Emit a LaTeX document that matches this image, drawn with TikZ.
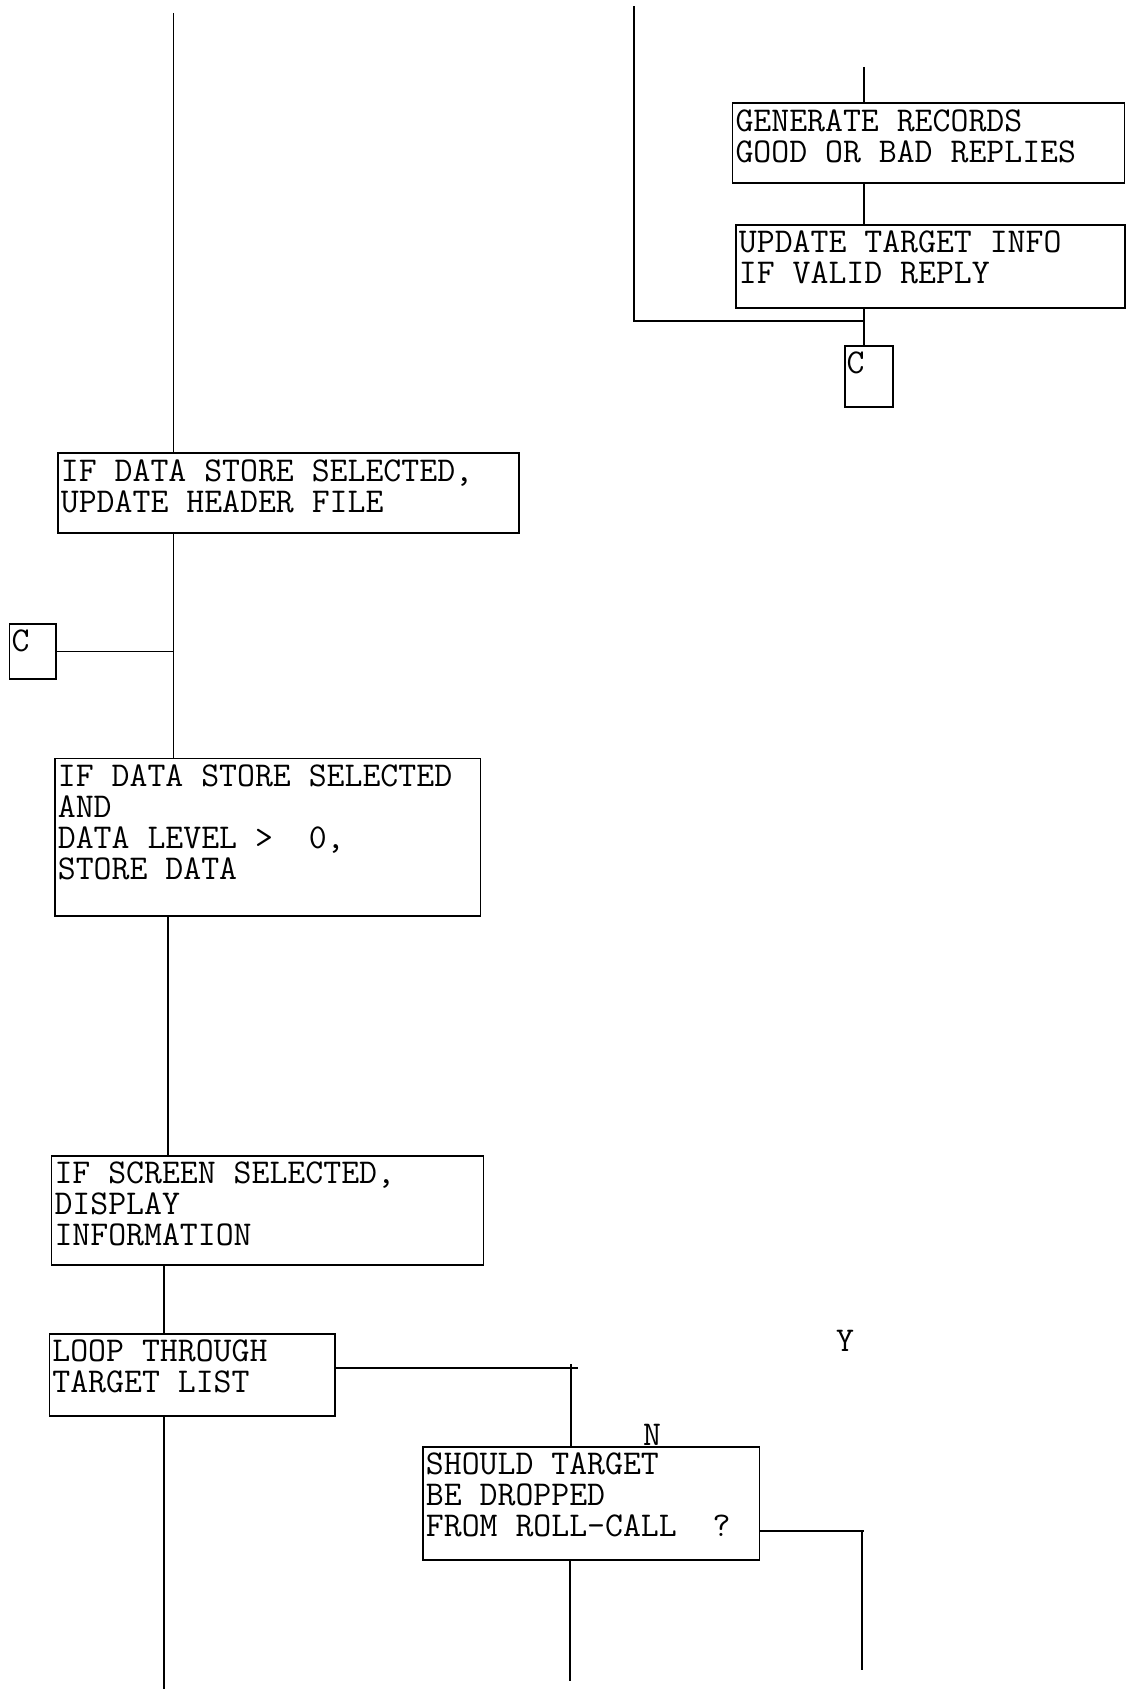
\documentclass[tikz,border=0pt]{standalone}
\usepackage{fontspec}
\usepackage{tikz}
\usetikzlibrary{positioning}
\newcommand\chartfont{\ttfamily\fontsize{17.4}{15.5}\selectfont}
\newcommand\fixspaces{\spaceskip=\fontcharwd\font`\M\relax\xspaceskip=\spaceskip}

\begin{document}
\begin{tikzpicture}[x=0.5pt, y=-0.5pt, line width=0.9pt,
    flowbox/.style={draw, anchor=north west, inner xsep=1.5pt, inner ysep=4pt,
      font=\chartfont\fixspaces, execute at begin node=\fixspaces, text height=10pt},
    conbox/.style={flowbox, inner xsep=1pt},
    flag/.style={font=\chartfont, inner sep=0pt}]

  \useasboundingbox (0,0) rectangle (1126,1689);

  % right column
  \node[flowbox, text width=193pt, text depth=21.8pt] (gen) at (731.6,102.4)
    {GENERATE RECORDS\\GOOD OR BAD REPLIES};
  \node[flowbox, text width=191.5pt, text depth=23.5pt] (upd) at (735,224)
    {UPDATE TARGET INFO\\IF VALID REPLY};
  \node[conbox, text width=22pt, text depth=12.5pt] (cr) at (843.7,345) {C};

  % left column
  \node[flowbox, text width=227.5pt, text depth=21.8pt] (hdr) at (57,452.5)
    {IF DATA STORE SELECTED,\\UPDATE HEADER FILE};
  \node[conbox, text width=21.2pt, text depth=9.5pt] (cl) at (8.6,623) {C};
  \node[flowbox, text width=209.75pt, text depth=60.8pt] (store) at (54,757.5)
    {IF DATA STORE SELECTED\\AND\\DATA LEVEL >\ \ 0,\\STORE DATA};
  \node[flowbox, text width=213pt, text depth=36.5pt] (screen) at (50.6,1155)
    {IF SCREEN SELECTED,\\DISPLAY\\INFORMATION};
  \node[flowbox, text width=139.75pt, text depth=23pt] (loop) at (48.5,1333)
    {LOOP THROUGH\\TARGET LIST};
  \node[flowbox, text width=165.3pt, text depth=38.5pt] (drop) at (422,1446)
    {SHOULD TARGET\\BE DROPPED\\FROM ROLL-CALL\ \ ?};

  % branch letters
  \node[flag] (lblN) at (652,1435) {N};
  \node[flag] (lblY) at (845,1341) {Y};

  % line ends
  \coordinate (rtop) at (633.6,6.5);
  \coordinate (gtop) at (864,67);
  \coordinate (rjoin) at (864,321);
  \coordinate (ltop) at (173.5,13);
  \coordinate (s1) at (168,0);
  \coordinate (s2) at (163.8,1689);
  \coordinate (jn) at (578,1368);
  \coordinate (dtop) at (571,1364);
  \coordinate (dbot) at (570,1681);
  \coordinate (yj) at (864,1531);
  \coordinate (ybot) at (862,1670);

  % connectors
  \draw (gtop) -- (gtop |- gen.north);
  \draw (gen.south -| gtop) -- (upd.north -| gtop);
  \draw (upd.south -| gtop) -- (cr.north -| gtop);
  \draw (rtop) |- (rjoin);

  \draw (ltop) -- (ltop |- hdr.north);
  \draw (hdr.south -| ltop) -- (store.north -| ltop);
  \draw (cl.east) -- (cl.east -| ltop);
  \draw (store.south -| s1) -- (screen.north -| s1);
  \draw (screen.south -| s2) -- (loop.north -| s2);
  \draw (loop.south -| s2) -- (s2);

  \draw (jn -| loop.east) -- (jn);
  \draw (dtop) -- (dtop |- drop.north);
  \draw (drop.south -| dbot) -- (dbot);
  \draw (yj -| drop.east) -- (yj);
  \draw (ybot |- yj) -- (ybot);
\end{tikzpicture}
\end{document}
